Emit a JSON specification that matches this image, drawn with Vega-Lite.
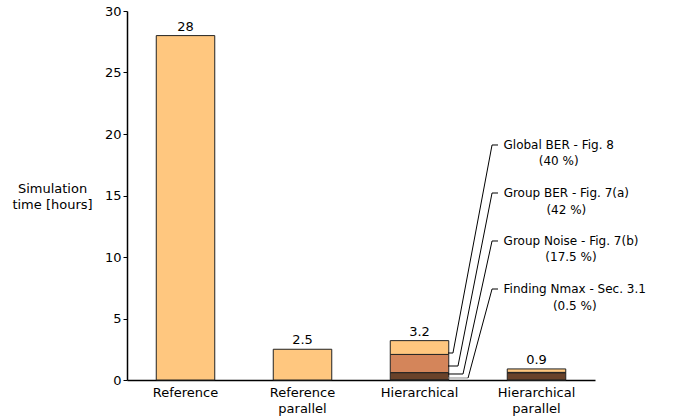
{
  "$schema": "https://vega.github.io/schema/vega-lite/v6.json",
  "width": 468,
  "height": 369,
  "autosize": {"type": "none"},
  "padding": {"left": 127, "top": 11, "right": 85, "bottom": 38},
  "config": {
    "font": "DejaVu Sans",
    "view": {"stroke": null},
    "axis": {
      "grid": false,
      "labelFont": "DejaVu Sans",
      "titleFont": "DejaVu Sans",
      "labelColor": "#000",
      "titleColor": "#000",
      "domainColor": "#000",
      "tickColor": "#000",
      "labelFontSize": 13,
      "titleFontSize": 13,
      "titleFontWeight": "normal",
      "domainWidth": 1.5
    }
  },
  "datasets": {
    "parts": [
      {"method": "Reference", "component": "Total", "rank": 1, "hours": 28},
      {"method": "Reference parallel", "component": "Total", "rank": 1, "hours": 2.5},
      {"method": "Hierarchical", "component": "Finding Nmax", "rank": 1, "hours": 0.02},
      {"method": "Hierarchical", "component": "Group Noise", "rank": 2, "hours": 0.58},
      {"method": "Hierarchical", "component": "Group BER", "rank": 3, "hours": 1.48},
      {"method": "Hierarchical", "component": "Global BER", "rank": 4, "hours": 1.12},
      {"method": "Hierarchical parallel", "component": "Finding Nmax", "rank": 1, "hours": 0.01},
      {"method": "Hierarchical parallel", "component": "Group Noise", "rank": 2, "hours": 0.58},
      {"method": "Hierarchical parallel", "component": "Group BER", "rank": 3, "hours": 0.03},
      {"method": "Hierarchical parallel", "component": "Global BER", "rank": 4, "hours": 0.28}
    ],
    "totals": [
      {"method": "Reference", "hours": 28, "label": "28"},
      {"method": "Reference parallel", "hours": 2.5, "label": "2.5"},
      {"method": "Hierarchical", "hours": 3.2, "label": "3.2"},
      {"method": "Hierarchical parallel", "hours": 0.9, "label": "0.9"}
    ],
    "leaders": [
      {"note": "Global BER", "pt": 1, "lx": 2.744, "ly": 2.195},
      {"note": "Global BER", "pt": 2, "lx": 2.786, "ly": 2.195},
      {"note": "Global BER", "pt": 3, "lx": 3.12, "ly": 19.106},
      {"note": "Global BER", "pt": 4, "lx": 3.171, "ly": 19.106},
      {"note": "Group BER", "pt": 1, "lx": 2.744, "ly": 1.138},
      {"note": "Group BER", "pt": 2, "lx": 2.829, "ly": 1.138},
      {"note": "Group BER", "pt": 3, "lx": 3.12, "ly": 15.203},
      {"note": "Group BER", "pt": 4, "lx": 3.171, "ly": 15.203},
      {"note": "Group Noise", "pt": 1, "lx": 2.744, "ly": 0.488},
      {"note": "Group Noise", "pt": 2, "lx": 2.872, "ly": 0.488},
      {"note": "Group Noise", "pt": 3, "lx": 3.12, "ly": 11.301},
      {"note": "Group Noise", "pt": 4, "lx": 3.171, "ly": 11.301},
      {"note": "Finding Nmax base", "pt": 1, "lx": 2.744, "ly": 0.163},
      {"note": "Finding Nmax base", "pt": 2, "lx": 2.915, "ly": 0.163},
      {"note": "Finding Nmax", "pt": 2, "lx": 2.915, "ly": 0.163},
      {"note": "Finding Nmax", "pt": 3, "lx": 3.12, "ly": 7.398},
      {"note": "Finding Nmax", "pt": 4, "lx": 3.171, "ly": 7.398}
    ],
    "notes": [
      {"note": "Global BER", "tx": 3.69, "ty": 19.106, "label": "Global BER - Fig. 8\n(40 %)"},
      {"note": "Group BER", "tx": 3.755, "ty": 15.203, "label": "Group BER - Fig. 7(a)\n(42 %)"},
      {"note": "Group Noise", "tx": 3.795, "ty": 11.301, "label": "Group Noise - Fig. 7(b)\n(17.5 %)"},
      {"note": "Finding Nmax", "tx": 3.827, "ty": 7.398, "label": "Finding Nmax - Sec. 3.1\n(0.5 %)"}
    ]
  },
  "layer": [
    {
      "data": {"name": "parts"},
      "mark": {"type": "bar", "stroke": "#222", "strokeWidth": 1},
      "encoding": {
        "x": {
          "field": "method",
          "type": "nominal",
          "sort": ["Reference", "Reference parallel", "Hierarchical", "Hierarchical parallel"],
          "scale": {"paddingInner": 0.5, "paddingOuter": 0.25},
          "axis": {
            "title": null,
            "ticks": false,
            "labelAngle": 0,
            "labelPadding": 6,
            "labelBaseline": "top",
            "labelLineHeight": 16.5,
            "labelExpr": "split(datum.label, ' ')"
          }
        },
        "y": {
          "field": "hours",
          "type": "quantitative",
          "stack": "zero",
          "scale": {"domain": [0, 30], "nice": false},
          "axis": {
            "title": ["Simulation", "time [hours]"],
            "titleAngle": 0,
            "titleAlign": "center",
            "titleBaseline": "alphabetic",
            "titleX": -75,
            "titleY": 181,
            "titleLineHeight": 16.5,
            "values": [0, 5, 10, 15, 20, 25, 30],
            "tickSize": 4,
            "labelPadding": 2
          }
        },
        "color": {
          "field": "component",
          "type": "nominal",
          "scale": {
            "domain": ["Total", "Global BER", "Group BER", "Group Noise", "Finding Nmax"],
            "range": ["#FFC77F", "#FFC77F", "#D4855A", "#69422A", "#1a1a1a"]
          },
          "legend": null
        },
        "order": {"field": "rank", "type": "quantitative"}
      }
    },
    {
      "data": {"name": "totals"},
      "mark": {"type": "text", "baseline": "alphabetic", "dy": -5, "fontSize": 13, "color": "#000"},
      "encoding": {
        "x": {
          "field": "method",
          "type": "nominal",
          "sort": ["Reference", "Reference parallel", "Hierarchical", "Hierarchical parallel"],
          "scale": {"paddingInner": 0.5, "paddingOuter": 0.25},
          "axis": null
        },
        "y": {"field": "hours", "type": "quantitative"},
        "text": {"field": "label"}
      }
    },
    {
      "data": {"name": "leaders"},
      "mark": {"type": "line", "strokeWidth": 1},
      "encoding": {
        "x": {"field": "lx", "type": "quantitative", "scale": {"domain": [0, 4], "nice": false, "zero": false}, "axis": null},
        "y": {"field": "ly", "type": "quantitative"},
        "detail": {"field": "note"},
        "order": {"field": "pt", "type": "quantitative"},
        "stroke": {"condition": {"test": "datum.note === 'Finding Nmax base'", "value": "#8c8c8c"}, "value": "#000"}
      }
    },
    {
      "data": {"name": "notes"},
      "mark": {"type": "text", "align": "center", "baseline": "middle", "lineBreak": "\n", "lineHeight": 16.5, "fontSize": 12, "color": "#000"},
      "encoding": {
        "x": {"field": "tx", "type": "quantitative", "scale": {"domain": [0, 4], "nice": false, "zero": false}, "axis": null},
        "y": {"field": "ty", "type": "quantitative"},
        "text": {"field": "label"}
      }
    }
  ],
  "resolve": {"scale": {"x": "independent"}}
}
